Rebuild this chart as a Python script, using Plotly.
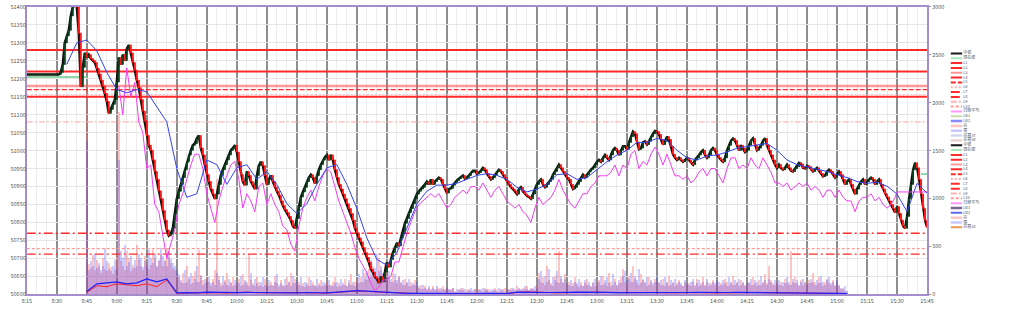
import pandas as pd
import plotly.graph_objects as go

DAY = "2025-11-04 "


def ts(hm):
    return pd.Timestamp(DAY + hm)


def times(start, n, minutes):
    return pd.date_range(ts(start), periods=n, freq=f"{minutes}min")


# ---------------- data ----------------
# 1-minute closes, 08:15 .. 15:45
price_close = (
    [51212] * 17
    + [51218, 51240, 51300, 51320, 51335, 51375, 51400, 51410, 51400, 51327, 51178, 51232, 51272]
    + [51259, 51267, 51256, 51251, 51245, 51229, 51213, 51196, 51180, 51159, 51137, 51104, 51115, 51129, 51142, 51191]
    + [51259, 51240, 51267, 51251, 51283, 51294, 51272, 51245, 51224, 51196, 51175, 51142, 51110, 51083, 51042]
    + [51015, 51001, 50974, 50942, 50920, 50888, 50866, 50833, 50806, 50779, 50763, 50768, 50784, 50825, 50866]
    + [50887, 50906, 50925, 50947, 50969, 50988, 51001, 51015, 51020, 51034, 51042, 51007, 50988, 50961, 50933]
    + [50914, 50893, 50879, 50866, 50879, 50906, 50931, 50947, 50961, 50974, 50988, 51001, 51007, 51015, 50996]
    + [50969, 50933, 50914, 50904, 50942, 50931, 50914, 50904, 50893, 50931, 50958, 50969, 50958, 50931, 50906]
    + [50920, 50931, 50914, 50898, 50887, 50876, 50860, 50847, 50836, 50828, 50817, 50806, 50790, 50784, 50811]
    + [50844, 50871, 50885, 50898, 50914, 50925, 50933, 50925, 50909, 50931, 50947, 50961, 50974, 50982, 50988]
    + [50974, 50988, 50974, 50947, 50925, 50906, 50893, 50879, 50866, 50852, 50839, 50825, 50806, 50784, 50771]
    + [50757, 50746, 50730, 50716, 50703, 50689, 50670, 50662, 50649, 50643, 50632, 50649, 50635, 50662, 50689]
    + [50676, 50697, 50716, 50730, 50743, 50735, 50757, 50771, 50798, 50811, 50828, 50839, 50852, 50866, 50879]
    + [50887, 50893, 50898, 50906, 50914, 50906, 50920, 50906, 50914, 50920, 50925, 50920, 50906, 50893, 50882]
    + [50893, 50895, 50904, 50912, 50917, 50922, 50928, 50931, 50922, 50925, 50931, 50939, 50944, 50944, 50936]
    + [50939, 50944, 50952, 50947, 50936, 50928, 50920, 50925, 50933, 50942, 50947, 50942, 50933, 50925, 50914]
    + [50906, 50898, 50893, 50887, 50879, 50893, 50898, 50887, 50879, 50874, 50871, 50866, 50879, 50893, 50906]
    + [50914, 50920, 50906, 50898, 50906, 50914, 50920, 50933, 50942, 50952, 50961, 50952, 50942, 50933, 50925]
    + [50920, 50906, 50893, 50898, 50906, 50914, 50925, 50933, 50925, 50933, 50942, 50947, 50952, 50961, 50969]
    + [50974, 50969, 50980, 50988, 50980, 50974, 50988, 51001, 51007, 51001, 50988, 51001, 51012, 51012, 51004]
    + [51023, 51039, 51053, 51047, 51023, 51004, 51007, 51023, 51026, 51017, 51026, 51039, 51047, 51055, 51053]
    + [51045, 51031, 51017, 51026, 51039, 51031, 51012, 50990, 50980, 50974, 50980, 50974, 50969, 50974, 50980]
    + [50974, 50966, 50961, 50974, 50980, 50988, 50996, 51001, 50988, 50980, 50988, 51001, 51007, 51001, 50988]
    + [50980, 50974, 50969, 50980, 51001, 51015, 51028, 51034, 51028, 51015, 51001, 51015, 51007, 50996, 51001]
    + [51015, 51028, 51034, 51015, 51001, 51007, 51015, 51028, 51034, 51015, 51001, 50988, 50974, 50961, 50952]
    + [50961, 50952, 50947, 50952, 50961, 50952, 50944, 50942, 50950, 50955, 50966, 50963, 50952, 50950, 50958]
    + [50955, 50947, 50942, 50947, 50952, 50944, 50936, 50928, 50931, 50942, 50947, 50942, 50933, 50925, 50933]
    + [50942, 50933, 50920, 50906, 50914, 50920, 50906, 50893, 50879, 50893, 50906, 50914, 50920, 50906, 50914]
    + [50920, 50925, 50920, 50906, 50914, 50920, 50906, 50893, 50879, 50871, 50860, 50850, 50839, 50828, 50844]
    + [50825, 50806, 50790, 50784, 50817, 50866, 50906, 50947, 50966, 50952, 50920, 50879, 50839, 50806, 50787]
)

# moving average LB2, 5-minute points from 08:35
lb2 = [51240, 51300, 51308, 51278, 51218, 51170, 51161, 51170, 51164, 51123, 51080, 50950,
       50870, 50880, 50974, 50961, 50906, 50952, 50961, 50920, 50942, 50906, 50852, 50825,
       50852, 50906, 50952, 50961, 50906, 50839, 50757, 50697, 50681, 50716, 50784, 50852,
       50887, 50904, 50904, 50909, 50920, 50931, 50936, 50931, 50920, 50898, 50885, 50893,
       50906, 50933, 50936, 50920, 50925, 50947, 50969, 50988, 51001, 51023, 51023, 51034,
       51028, 51001, 50980, 50974, 50985, 50988, 50996, 51007, 51012, 51015, 51020, 51001,
       50974, 50961, 50955, 50947, 50942, 50933, 50925, 50914, 50909, 50912, 50901, 50879,
       50830, 50909, 50882]

# Nikkei average (2-minute points from 09:01)
nikkei = [
    51180, 51100, 51230, 51150, 51190, 51080, 51050, 50950, 50960, 50850, 50830, 50760, 50700, 50740, 50780,
    50850, 50880, 50920, 50960, 50990, 50990, 50950, 50880, 50840, 50800, 50860, 50900, 50930, 50960, 50970,
    50920, 50840, 50880, 50860, 50830, 50900, 50910, 50850, 50880, 50850, 50830, 50790, 50780, 50740, 50720,
    50790, 50840, 50870, 50890, 50860, 50900, 50930, 50950, 50940, 50900, 50860, 50830, 50800, 50770, 50730,
    50700, 50680, 50660, 50630, 50610, 50620, 50640, 50640, 50650, 50690, 50690, 50730, 50770, 50800, 50830,
    50850, 50860, 50870, 50880, 50870, 50880, 50860, 50840, 50850, 50870, 50880, 50890, 50880, 50900, 50900,
    50890, 50910, 50890, 50870, 50890, 50900, 50880, 50860, 50850, 50840, 50850, 50830, 50820, 50800, 50840,
    50870, 50850, 50860, 50870, 50890, 50920, 50890, 50870, 50850, 50840, 50860, 50880, 50880, 50900, 50910,
    50930, 50930, 50930, 50940, 50960, 50930, 50960, 50950, 50990, 51000, 50950, 50970, 50960, 50990, 51010,
    50990, 50960, 50990, 50960, 50930, 50930, 50920, 50930, 50910, 50920, 50940, 50950, 50930, 50950, 50950,
    50930, 50910, 50950, 50980, 50980, 50950, 50960, 50950, 50980, 50960, 50950, 50980, 50960, 50940, 50910,
    50910, 50900, 50910, 50890, 50900, 50910, 50900, 50910, 50890, 50900, 50890, 50870, 50890, 50890, 50870,
    50890, 50870, 50860, 50860, 50830, 50860, 50870, 50870, 50880, 50860, 50870, 50850, 50840, 50850, 50870,
]
nikkei_after_close = 50885

# 1-minute sell / buy volume from 08:45
vol_sell = (
    [2150, 320, 280, 410, 250, 360, 300, 220, 380, 270, 240, 330, 290, 210, 260, 420,
     1900, 350, 300, 260, 450, 380, 240, 310, 280, 520, 360, 300, 250, 400,
     330, 270, 310, 460, 380, 290, 350, 420, 300, 360, 480, 390, 330, 280, 250, 200]
    + [180, 130, 220, 120, 300, 160, 110, 190, 240, 130, 460, 200, 150, 120, 170]
    + [130, 90, 160, 260, 1200, 190, 120, 100, 150, 220, 90, 130, 180, 100, 120]
    + [160, 90, 210, 130, 100, 420, 150, 120, 90, 180, 130, 100, 80, 160, 120]
    + [90, 130, 100, 190, 120, 80, 150, 100, 90, 180, 130, 220, 120, 160, 100]
    + [130, 90, 120, 80, 100, 180, 90, 130, 100, 80, 120, 150, 90, 100, 130]
    + [100, 90, 130, 180, 80, 120, 90, 100, 160, 90, 120, 210, 100, 130, 160]
    + [120, 180, 130, 220, 150, 270, 180, 300, 220, 190, 380, 260, 210, 330, 240]
    + [180, 130, 220, 150, 120, 190, 130, 100, 160, 120, 90, 130, 100, 150, 90]
    + [70, 100, 60, 90, 50, 70, 60, 90, 50, 60, 70, 50, 90, 60, 70]
    + [50, 60, 70, 40, 30, 60, 50, 70, 30, 50, 60, 40, 30, 60, 50]
    + [60, 40, 30, 70, 50, 60, 30, 40, 70, 50, 30, 60, 40, 70, 60]
    + [50, 70, 60, 40, 90, 60, 50, 70, 60, 90, 50, 60, 70, 50, 90]
    + [220, 130, 180, 100, 300, 150, 120, 90, 190, 130, 450, 160, 120, 210, 100]
    + [130, 90, 120, 180, 100, 80, 130, 90, 120, 160, 100, 80, 130, 90, 120]
    + [150, 100, 190, 120, 90, 220, 130, 100, 160, 90, 120, 180, 270, 130, 100]
    + [190, 130, 300, 160, 120, 100, 210, 150, 120, 90, 180, 130, 100, 160, 120]
    + [130, 100, 160, 90, 120, 190, 100, 130, 90, 120, 150, 100, 90, 130, 100]
    + [120, 90, 130, 100, 160, 90, 120, 180, 100, 130, 90, 120, 150, 100, 130]
    + [90, 120, 100, 160, 130, 90, 120, 190, 100, 130, 90, 150, 120, 100, 90]
    + [130, 100, 180, 120, 90, 150, 100, 130, 210, 120, 300, 150, 120, 100, 130]
    + [100, 130, 90, 160, 120, 100, 450, 130, 180, 120, 90, 150, 100, 130, 120]
    + [150, 120, 220, 130, 100, 180, 120, 90, 130, 160, 120, 100, 150, 90, 120]
    + [90, 60, 70, 40, 30]
)
vol_buy = (
    [1600, 250, 350, 300, 420, 280, 330, 260, 300, 480, 350, 270, 240, 300, 360, 280,
     1400, 450, 380, 520, 300, 340, 400, 280, 360, 300, 420, 380, 290, 350,
     300, 460, 380, 330, 420, 300, 360, 480, 400, 350, 300, 450, 370, 330, 300, 260]
    + [210, 150, 120, 250, 130, 180, 220, 120, 160, 300, 130, 190, 100, 160, 130]
    + [180, 120, 130, 100, 220, 150, 90, 190, 130, 100, 160, 120, 90, 150, 130]
    + [120, 190, 100, 150, 130, 90, 220, 100, 160, 120, 90, 130, 180, 100, 90]
    + [150, 100, 90, 130, 210, 100, 120, 90, 160, 100, 130, 90, 190, 120, 150]
    + [100, 180, 90, 130, 120, 90, 150, 100, 90, 160, 100, 90, 130, 120, 90]
    + [150, 100, 90, 120, 130, 90, 160, 120, 100, 90, 150, 100, 130, 90, 120]
    + [210, 130, 270, 160, 240, 180, 360, 220, 280, 420, 240, 300, 220, 270, 190]
    + [240, 160, 130, 210, 150, 180, 120, 150, 100, 130, 160, 90, 120, 100, 130]
    + [90, 60, 100, 70, 60, 90, 50, 70, 60, 90, 50, 70, 60, 50, 70]
    + [60, 50, 70, 30, 60, 50, 70, 50, 60, 30, 50, 70, 50, 60, 30]
    + [50, 60, 70, 50, 60, 30, 50, 60, 50, 30, 70, 50, 60, 30, 50]
    + [60, 50, 70, 60, 50, 70, 60, 50, 90, 60, 50, 70, 60, 90, 70]
    + [160, 240, 120, 190, 130, 270, 100, 180, 150, 240, 120, 190, 130, 160, 120]
    + [100, 150, 90, 130, 120, 160, 100, 90, 150, 100, 130, 90, 120, 160, 100]
    + [130, 190, 100, 150, 180, 120, 90, 210, 130, 100, 150, 120, 190, 240, 150]
    + [160, 220, 130, 190, 150, 270, 120, 160, 130, 180, 100, 150, 120, 130, 190]
    + [120, 150, 100, 180, 130, 90, 150, 120, 160, 100, 130, 120, 90, 150, 120]
    + [100, 130, 160, 90, 120, 150, 100, 130, 90, 160, 120, 100, 130, 120, 150]
    + [130, 100, 150, 120, 90, 180, 130, 100, 150, 120, 160, 100, 130, 90, 120]
    + [120, 160, 100, 150, 130, 100, 190, 120, 150, 100, 160, 130, 100, 150, 120]
    + [150, 100, 130, 120, 180, 130, 100, 160, 120, 150, 100, 130, 160, 120, 100]
    + [120, 160, 130, 100, 150, 120, 190, 130, 100, 150, 180, 120, 130, 100, 150]
    + [100, 70, 60, 90, 40]
)

# volume averages, 5-minute points from 08:45
vol_sell_avg = [20, 90, 80, 110, 100, 90, 110, 80, 150, 10,
                15, 18, 20, 16, 14, 18, 22, 17, 15, 14, 16, 18, 20, 15, 13, 20, 28, 35, 30, 24,
                18, 14, 10, 8, 7, 6, 7, 8, 6, 7, 9, 8, 7, 20, 25, 22, 18, 16, 18, 20,
                24, 22, 19, 17, 16, 18, 20, 17, 15, 16, 18, 20, 17, 15, 18, 20, 22, 19, 17, 16,
                18, 20, 19, 17, 15, 12, 8]
vol_buy_avg = [30, 110, 120, 130, 110, 120, 160, 130, 160, 15,
               18, 16, 22, 19, 15, 17, 20, 18, 16, 15, 18, 16, 19, 17, 15, 24, 32, 38, 33, 26,
               20, 15, 11, 9, 8, 7, 8, 9, 7, 8, 10, 9, 8, 22, 24, 20, 19, 17, 20, 22,
               23, 21, 20, 18, 17, 19, 21, 18, 16, 17, 19, 21, 18, 16, 19, 21, 20, 18, 17, 17,
               19, 21, 18, 16, 14, 11, 7]

# current-value marker segments
genzai_times = ["08:15", "08:45", None, "15:42", "15:45"]
genzai_vals = [51205, 51205, None, 50935, 50935]

# horizontal reference levels L1..L10
level_names = ["L1", "L2", "L3", "L4", "L5", "L6", "L7", "L8", "L9", "L10"]
level_vals = [51280, 51220, 51180, 51150, 51170, 51155, 50770, 50712, 51080, 50727]

# legend entries
legend_names = ["中値", "現在値", "L1", "L2", "L3", "L4", "L5", "L6", "L7", "L8", "L9", "L10",
                "日経平均", "LB1", "LB2", "売", "買", "売買37", "売買38",
                "中値", "現在値", "L1", "L2", "L3", "L4", "L5", "L6", "L7", "L8", "L9", "L10",
                "日経平均", "LB1", "LB2", "売", "買", "売買18"]

# ---------------- styles ----------------
PURPLE = "#a58ccb"
RED = "#ff2b2b"
level_style = {
    "L1": (RED, 2.0, "solid"), "L2": (RED, 2.0, "solid"),
    "L3": ("rgba(255,70,70,0.55)", 2.6, "solid"), "L4": (RED, 2.0, "solid"),
    "L5": (RED, 1.3, "5px,2px"), "L6": ("#ffb0b0", 1.3, "2px,2px"),
    "L7": (RED, 1.3, "9px,3px,2px,3px"), "L8": (RED, 1.3, "9px,3px,2px,3px"),
    "L9": ("#ffb5b5", 1.3, "6px,2px,2px,2px"), "L10": ("#ff9a9a", 1.3, "3px,2px"),
}
legend_style_a = {
    "中値": ("#1a1a1a", 2, "solid"), "現在値": ("#a8e6bc", 2, "solid"),
    "日経平均": ("#ff99ff", 2, "solid"), "LB1": ("#c5dfae", 2, "solid"),
    "LB2": ("#8a8aff", 2.5, "solid"), "売": ("#ffc4c4", 2.5, "solid"),
    "買": ("#c8c8ff", 2.5, "solid"), "売買37": ("#d0d8ec", 2.5, "solid"),
    "売買38": ("#ecd2d2", 2.5, "solid"), "売買18": ("#e89a50", 2, "solid"),
}
legend_style_b = dict(legend_style_a)
legend_style_b["LB1"] = ("#7a6990", 2.5, "solid")
legend_style_b["LB2"] = ("#5a6cf0", 2, "solid")

fig = go.Figure()

# volume bars (bottom layer, right axis)
t_vol = times("08:45", len(vol_sell), 1)
fig.add_trace(go.Bar(x=t_vol, y=vol_sell, width=50000, marker=dict(color="rgba(255,70,70,0.32)", line=dict(width=0)),
                     xaxis="x", yaxis="y", hoverinfo="skip"))
t_vol_b = times("08:45", len(vol_buy), 1)
fig.add_trace(go.Bar(x=t_vol_b, y=vol_buy, width=50000, marker=dict(color="rgba(70,70,255,0.28)", line=dict(width=0)),
                     xaxis="x", yaxis="y", hoverinfo="skip"))
fig.add_trace(go.Scatter(x=times("08:45", len(vol_sell_avg), 5), y=vol_sell_avg, mode="lines",
                         line=dict(color="#ff2020", width=1), xaxis="x", yaxis="y", hoverinfo="skip"))
fig.add_trace(go.Scatter(x=times("08:45", len(vol_buy_avg), 5), y=vol_buy_avg, mode="lines",
                         line=dict(color="#2020ff", width=1.2), xaxis="x", yaxis="y", hoverinfo="skip"))

# reference levels and base price line (middle layer)
x_full = [ts("08:15"), ts("15:45")]
for name, lv in zip(level_names, level_vals):
    c, w, d = level_style[name]
    fig.add_trace(go.Scatter(x=x_full, y=[lv, lv], mode="lines", line=dict(color=c, width=w, dash=d),
                             xaxis="x", yaxis="y2", hoverinfo="skip"))
fig.add_trace(go.Scatter(x=[ts(t) if t else None for t in genzai_times], y=genzai_vals, mode="lines",
                         line=dict(color="#8fd9a8", width=2), xaxis="x", yaxis="y2", hoverinfo="skip"))
t_price = times("08:15", len(price_close), 1)
fig.add_trace(go.Scatter(x=t_price, y=price_close, mode="lines", line=dict(color="#111111", width=2.4),
                         xaxis="x", yaxis="y2", hoverinfo="skip"))

# candles + overlays (top layer)
opens = [price_close[0]] + price_close[:-1]
highs = [max(o, c) for o, c in zip(opens, price_close)]
lows = [min(o, c) for o, c in zip(opens, price_close)]
fig.add_trace(go.Candlestick(x=t_price, open=opens, high=highs, low=lows, close=price_close,
                             increasing=dict(line=dict(color="#0d3d1c", width=1), fillcolor="#0b6b34"),
                             decreasing=dict(line=dict(color="#ff1a1a", width=1), fillcolor="#ff2222"),
                             whiskerwidth=0, xaxis="x", yaxis="y3", hoverinfo="skip"))
t_nk = times("09:01", len(nikkei), 2)
fig.add_trace(go.Scatter(x=list(t_nk) + [ts("15:30"), ts("15:45")],
                         y=nikkei + [nikkei_after_close, nikkei_after_close], mode="lines",
                         line=dict(color="#f03cf0", width=1), xaxis="x", yaxis="y3", hoverinfo="skip"))
fig.add_trace(go.Scatter(x=times("08:35", len(lb2), 5), y=lb2, mode="lines", line=dict(color="#3344ee", width=1),
                         xaxis="x", yaxis="y3", hoverinfo="skip"))

# legend drawn in its own small axes
LEG_TOP, LEG_STEP = 50.7, 4.96
leg_y = []
for i, name in enumerate(legend_names):
    yy = LEG_TOP + LEG_STEP * i
    leg_y.append(yy)
    styles = legend_style_a if i < 19 else legend_style_b
    if name in level_style:
        c, w, d = level_style[name]
        w = 2
    else:
        c, w, d = styles[name]
    fig.add_trace(go.Scatter(x=[2, 13.5], y=[yy, yy], mode="lines", line=dict(color=c, width=w, dash=d),
                             xaxis="x2", yaxis="y4", hoverinfo="skip"))
fig.add_trace(go.Scatter(x=[14.5] * len(legend_names), y=leg_y, mode="text", text=legend_names,
                         textposition="middle right", textfont=dict(size=4, color="#555"),
                         xaxis="x2", yaxis="y4", hoverinfo="skip"))

DOM_X = [22 / 1024, 933 / 1024]
DOM_Y = [13 / 311, 308 / 311]
TICKFONT = dict(size=5.5, color="#555")
fig.update_layout(
    width=1024, height=311, margin=dict(l=0, r=0, t=0, b=0),
    paper_bgcolor="white", plot_bgcolor="white", showlegend=False,
    font=dict(family="Noto Sans CJK JP, Noto Sans, sans-serif", size=6, color="#555"),
    barmode="overlay", bargap=0,
    xaxis=dict(domain=DOM_X, type="date", range=x_full, anchor="y",
               tick0=ts("08:15"), dtick=15 * 60 * 1000, tickformat="%-H:%M", tickfont=TICKFONT,
               showgrid=True, gridcolor="#8e8e8e", gridwidth=1.6,
               minor=dict(dtick=5 * 60 * 1000, showgrid=True, gridcolor="#ececec", gridwidth=1),
               showline=True, linecolor=PURPLE, linewidth=2, mirror=True, ticks="", zeroline=False,
               rangeslider=dict(visible=False), fixedrange=True, ticklabeloverflow="allow"),
    yaxis=dict(domain=DOM_Y, range=[0, 3000], side="right", anchor="x", dtick=500, tickfont=TICKFONT,
               ticks="outside", ticklen=2, tickcolor="#999", showgrid=False, zeroline=False,
               showline=True, linecolor=PURPLE, linewidth=2, mirror=True, ticklabeloverflow="allow"),
    yaxis2=dict(range=[50600, 51400], overlaying="y", side="left", anchor="x", dtick=50, tickformat="d",
                tickfont=TICKFONT, showgrid=True, gridcolor="#e6e6e6", zeroline=False, ticks="",
                ticklabeloverflow="allow"),
    yaxis3=dict(range=[50600, 51400], overlaying="y", anchor="x", visible=False, showgrid=False),
    xaxis2=dict(domain=[955 / 1024, 1.0], range=[0, 69], anchor="y4", visible=False),
    yaxis4=dict(domain=[0, 1], range=[311, 0], anchor="x2", visible=False),
)

fig.write_html("out.html", config={"displayModeBar": False})
